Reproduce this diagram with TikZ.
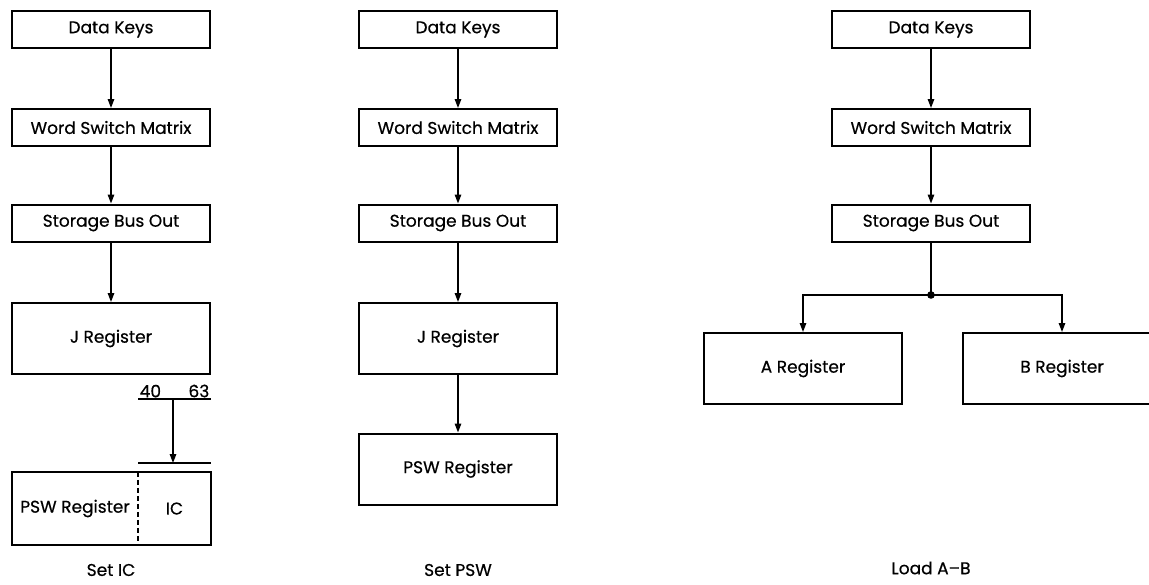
\documentclass[tikz,border=0pt]{standalone}
\usepackage{fontspec}
\setmainfont{Poppins}[FakeBold=0.5]
\usetikzlibrary{arrows.meta}
\tikzset{wire/.style={line width=1.4pt}}
\tikzset{flow/.style={wire, -{Triangle[length=9pt,width=6.5pt]}}}
\tikzset{lbl/.style={font=\fontsize{17}{19}\selectfont}}
\tikzset{unit/.style={draw, line width=2pt, minimum width=198pt, minimum height=37pt, inner sep=0pt, lbl}}
\tikzset{reg/.style={unit, minimum height=71pt}}
\tikzset{field/.style={minimum height=73pt, inner sep=0pt, lbl}}

\begin{document}
\begin{tikzpicture}[x=1pt,y=-1pt]
\clip (0,0) rectangle (1149,584);
% Set IC
\node[unit] (keys1) at (111,29.5) {Data Keys};
\node[unit] (wsm1) at (111,127.5) {Word Switch Matrix};
\node[unit] (sbo1) at (111,223) {Storage Bus Out};
\node[reg] (jreg1) at (111,338.5) {J Register};
\draw[flow] (keys1) -- (wsm1);
\draw[flow] (wsm1) -- (sbo1);
\draw[flow] (sbo1) -- (jreg1);
\coordinate (bit40) at (138,399);
\coordinate (bit63) at (211,399);
\coordinate (tap) at (173,399);
\coordinate (icin) at (173,463);
\coordinate (icl) at (138,463);
\coordinate (icr) at (211,463);
\draw[wire] (bit40) -- (bit63);
\draw[wire] (icl) -- (icr);
\node[lbl, anchor=south west, inner sep=1.5pt] (n40) at (bit40) {40};
\node[lbl, anchor=south east, inner sep=1.5pt] (n63) at (bit63) {63};
\draw[flow] (tap) -- (icin);
\node[field, minimum width=126pt] (psw1) at (75,508.5) {PSW Register};
\node[field, minimum width=73pt] (ic1) at (174.5,508.5) {IC};
\draw[line width=2pt] (psw1.north west) rectangle (ic1.south east);
\draw[line width=2pt, dash pattern=on 5pt off 3pt] (psw1.north east) -- (psw1.south east);
\node[lbl] (capic) at (111,570) {Set IC};

% Set PSW
\node[unit] (keys2) at (458,29.5) {Data Keys};
\node[unit] (wsm2) at (458,127.5) {Word Switch Matrix};
\node[unit] (sbo2) at (458,223) {Storage Bus Out};
\node[reg] (jreg2) at (458,338.5) {J Register};
\node[reg] (psw2) at (458,469) {PSW Register};
\draw[flow] (keys2) -- (wsm2);
\draw[flow] (wsm2) -- (sbo2);
\draw[flow] (sbo2) -- (jreg2);
\draw[flow] (jreg2) -- (psw2);
\node[lbl] (cappsw) at (458,570) {Set PSW};

% Load A-B
\node[unit] (keys3) at (931,29.5) {Data Keys};
\node[unit] (wsm3) at (931,127.5) {Word Switch Matrix};
\node[unit] (sbo3) at (931,223) {Storage Bus Out};
\node[reg] (areg) at (803,368.5) {A Register};
\node[reg] (breg) at (1062,368.5) {B Register};
\draw[flow] (keys3) -- (wsm3);
\draw[flow] (wsm3) -- (sbo3);
\coordinate (fork) at (931,295);
\draw[wire] (sbo3) -- (fork);
\fill (fork) circle (3.8pt);
\draw[flow] (fork) -| (areg);
\draw[flow] (fork) -| (breg);
\node[lbl] (capab) at (931,568) {Load A--B};
\end{tikzpicture}
\end{document}
